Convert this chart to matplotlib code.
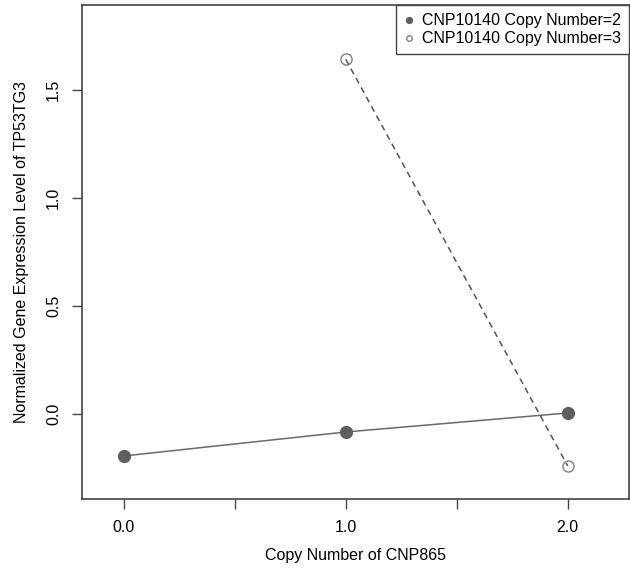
import matplotlib
matplotlib.use("Agg")
import matplotlib.pyplot as plt

plt.rcParams['font.family'] = ['Liberation Sans', 'DejaVu Sans']

# data
x_cn2 = [0.0, 1.0, 2.0]
y_cn2 = [-0.194, -0.083, 0.005]
x_cn3 = [1.0, 2.0]
y_cn3 = [1.643, -0.24]

FS = 11.5

fig = plt.figure(figsize=(6.3, 5.68), dpi=100)
ax = fig.add_axes([0.130, 0.122, 0.868, 0.869])

ax.plot(x_cn2, y_cn2, color='#6a6a6a', lw=1.1, zorder=2)
ax.plot(x_cn2, y_cn2, 'o', color='#5e5e5e', ms=8.5, zorder=3,
        label='CNP10140 Copy Number=2')
ax.plot(x_cn3, y_cn3, 'o', mfc='white', mec='#808080', mew=1.0, ms=8, zorder=2,
        label='CNP10140 Copy Number=3')
ax.plot(x_cn3, y_cn3, color='#555555', lw=1.1, ls=(0, (4, 3)), zorder=3)

ax.set_xlim(-0.189, 2.275)
ax.set_ylim(-0.392, 1.894)
ax.set_xticks([0, 0.5, 1.0, 1.5, 2.0])
ax.set_xticklabels(['0.0', '', '1.0', '', '2.0'])
ax.set_yticks([0.0, 0.5, 1.0, 1.5])
ax.set_yticklabels(['0.0', '0.5', '1.0', '1.5'], rotation=90, va='center')

ax.tick_params(direction='out', length=7, width=1, color='#444444',
               labelsize=FS, pad=8)
for s in ax.spines.values():
    s.set_color('#444444')
    s.set_linewidth(1.2)

ax.set_xlabel('Copy Number of CNP865', fontsize=FS, labelpad=10)
ax.set_ylabel('Normalized Gene Expression Level of TP53TG3', fontsize=FS,
              labelpad=12)

h, l = ax.get_legend_handles_labels()
leg = ax.legend(h, l, loc='upper right', bbox_to_anchor=(1.0, 1.0),
                borderaxespad=0, fontsize=FS, fancybox=False, framealpha=1,
                edgecolor='#444444', markerscale=0.5, handlelength=0.6,
                handletextpad=0.5, borderpad=0.5, labelspacing=0.2)
leg.get_frame().set_linewidth(1.0)

fig.savefig('out.png', dpi=100)
